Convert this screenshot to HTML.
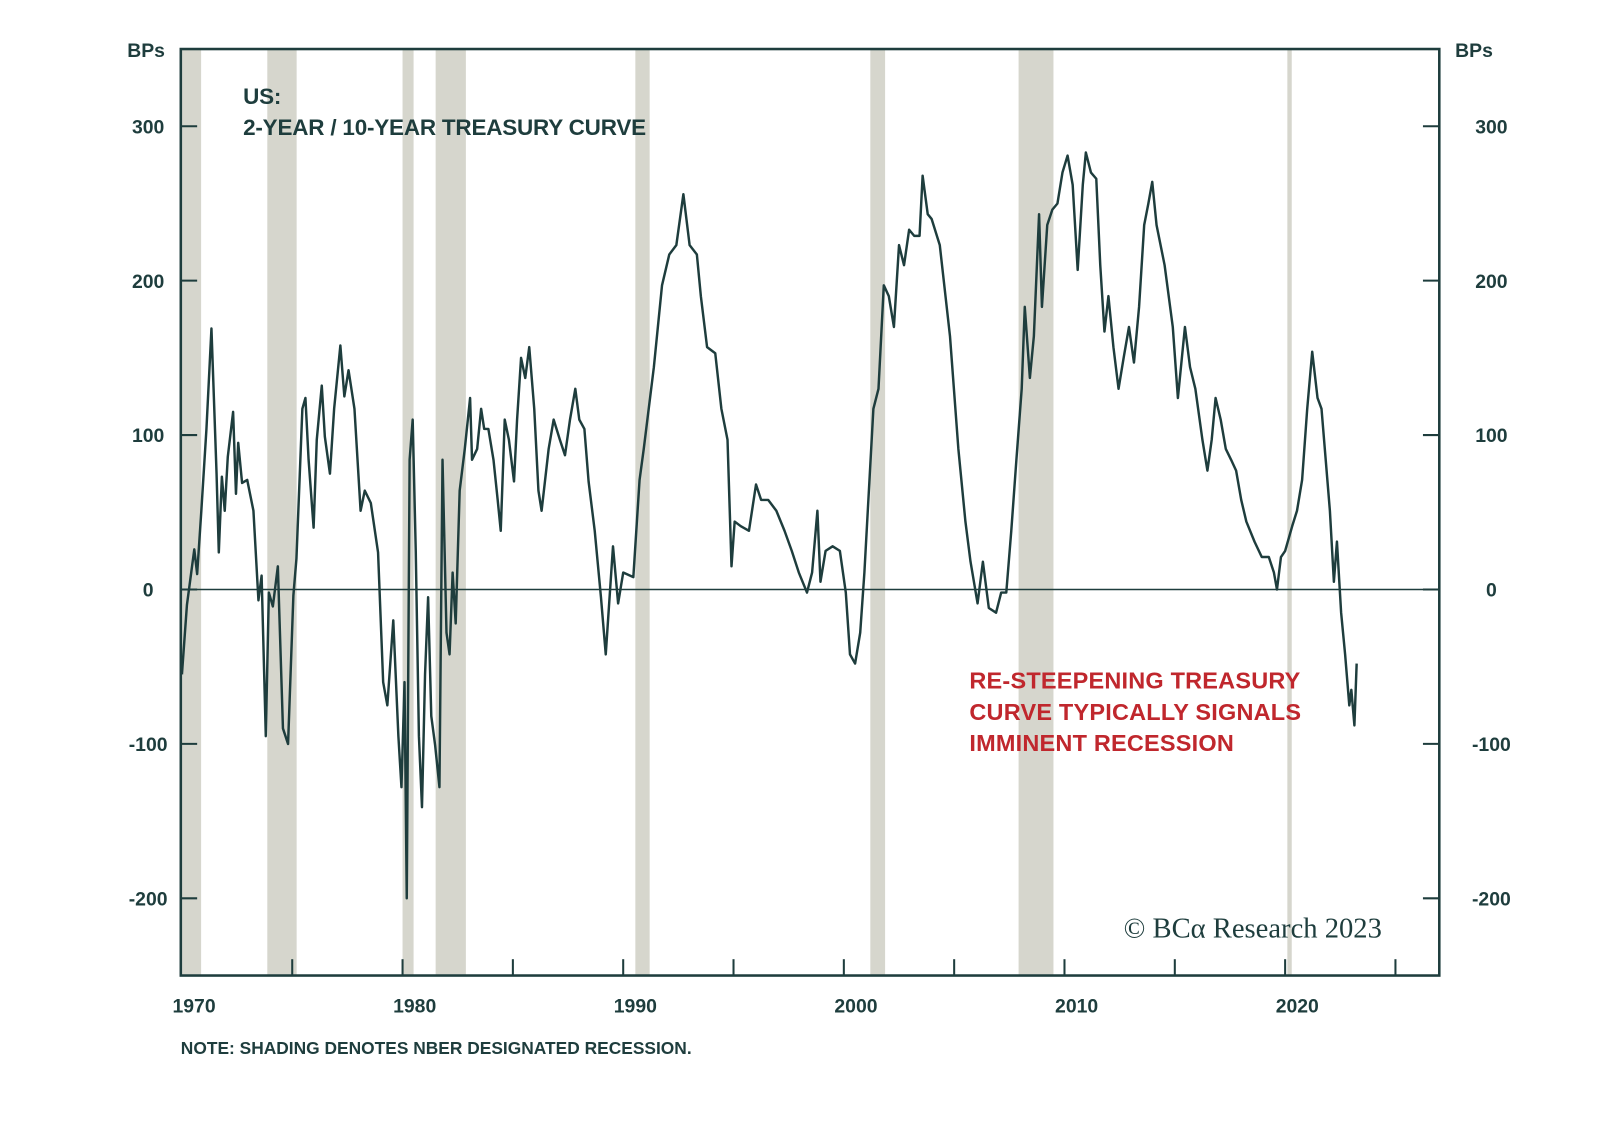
<!DOCTYPE html>
<html><head><meta charset="utf-8"><style>
html,body{margin:0;padding:0;background:#fff;}
svg{display:block;}
text{font-family:"Liberation Sans",sans-serif;}
</style></head><body>
<svg id="chart" width="1600" height="1128" viewBox="0 0 1600 1128" xmlns="http://www.w3.org/2000/svg">
<g transform="scale(1.0215)">
<g id="rec"></g>
<g id="grid"></g>
<g id="series"></g>
<g id="axes"></g>
<text x="238" y="102" font-size="22" font-weight="bold" fill="#1e3d3d" letter-spacing="-0.2">US:</text>
<text x="238" y="132" font-size="22" font-weight="bold" fill="#1e3d3d" letter-spacing="-0.2">2-YEAR / 10-YEAR TREASURY CURVE</text>
<text x="949" y="674" font-size="23" font-weight="bold" fill="#c0272d" letter-spacing="0.2">RE-STEEPENING TREASURY</text>
<text x="949" y="705" font-size="23" font-weight="bold" fill="#c0272d" letter-spacing="0.2">CURVE TYPICALLY SIGNALS</text>
<text x="949" y="735" font-size="23" font-weight="bold" fill="#c0272d" letter-spacing="0.2">IMMINENT RECESSION</text>
<text x="1100" y="918" font-size="28" fill="#1e3d3d" style="font-family:'Liberation Serif',serif">© BCα Research 2023</text>
<text x="177" y="1032" font-size="17" font-weight="bold" fill="#1e3d3d" letter-spacing="0">NOTE: SHADING DENOTES NBER DESIGNATED RECESSION.</text>
</g>
</svg>
<script>
const baseYear = 1970;
const yearOffsets = [0,0.23,0.42,0.56,0.69,0.88,1.11,1.34,1.57,1.67,1.81,1.94,2.08,2.32,2.45,2.55,2.73,2.96,3.24,3.47,3.61,3.80,3.94,4.12,4.35,4.58,4.81,5.05,5.19,5.46,5.60,5.74,5.97,6.11,6.34,6.48,6.71,6.90,7.18,7.36,7.55,7.82,8.10,8.29,8.56,8.89,9.12,9.31,9.58,9.81,9.95,10.09,10.19,10.32,10.46,10.60,10.74,10.88,11.02,11.16,11.30,11.48,11.67,11.81,11.99,12.13,12.27,12.41,12.59,12.82,13.06,13.15,13.38,13.56,13.70,13.89,14.12,14.31,14.45,14.63,14.82,15.05,15.19,15.37,15.56,15.74,15.97,16.16,16.30,16.62,16.85,17.13,17.36,17.59,17.83,18.01,18.24,18.43,18.71,18.99,19.21,19.54,19.77,20.00,20.46,20.74,20.93,21.39,21.76,22.09,22.41,22.73,23.01,23.34,23.52,23.80,24.17,24.45,24.73,24.91,25.05,25.33,25.70,26.02,26.25,26.57,26.94,27.31,27.64,27.96,28.33,28.56,28.80,28.94,29.17,29.49,29.82,30.09,30.28,30.51,30.74,30.93,31.11,31.34,31.57,31.81,32.04,32.27,32.50,32.73,32.96,33.19,33.43,33.57,33.80,33.98,34.35,34.81,35.19,35.51,35.74,36.06,36.30,36.57,36.90,37.13,37.36,37.59,37.82,38.06,38.20,38.43,38.61,38.85,38.98,39.22,39.45,39.68,39.91,40.14,40.37,40.60,40.83,40.97,41.20,41.44,41.62,41.81,41.99,42.22,42.45,42.68,42.92,43.15,43.38,43.61,43.80,43.98,44.17,44.54,44.91,45.14,45.32,45.46,45.69,45.93,46.25,46.48,46.67,46.85,47.08,47.31,47.55,47.78,48.01,48.24,48.61,48.94,49.26,49.49,49.63,49.81,50.00,50.32,50.54,50.77,51.00,51.23,51.47,51.65,51.84,52.03,52.21,52.35,52.54,52.72,52.91,53.00,53.14,53.24];
const spreadBps = [-55,-10,11,26,10,51,104,169,75,24,73,51,86,115,62,95,69,71,51,-7,9,-95,-2,-11,15,-90,-100,-4,20,117,124,84,40,97,132,99,75,117,158,125,142,117,51,64,56,24,-60,-75,-20,-95,-128,-60,-200,84,110,25,-95,-141,-55,-5,-82,-101,-128,84,-28,-42,11,-22,64,91,124,84,91,117,104,104,84,58,38,110,97,70,110,150,137,157,117,64,51,91,110,97,87,110,130,110,104,70,38,-5,-42,28,-9,11,8,71,91,144,197,217,223,256,223,217,190,157,153,117,97,15,44,41,38,68,58,58,51,38,25,11,-2,11,51,5,25,28,25,-2,-42,-48,-28,11,58,117,130,197,190,170,223,210,233,229,229,268,243,240,223,164,91,44,18,-9,18,-12,-15,-2,-2,38,84,130,183,137,164,243,183,236,246,250,270,281,262,207,262,283,270,266,210,167,190,157,130,150,170,147,183,236,250,264,236,210,170,124,150,170,144,130,97,77,97,124,110,91,84,77,58,44,31,21,21,11,0,21,25,41,51,71,117,154,124,117,84,51,5,31,-15,-42,-75,-65,-88,-48];
const recessionStarts = [1969.92,1973.87,1980.0,1981.5,1990.55,2001.2,2007.92,2020.1];
const recessionEnds = [1970.87,1975.2,1980.5,1982.87,1991.2,2001.87,2009.5,2020.3];
const yTicks = [-200,-100,0,100,200,300];
const xTickYears = [1975,1980,1985,1990,1995,2000,2005,2010,2015,2020,2025];
const xLabelYears = [1970,1980,1990,2000,2010,2020];

const NS = "http://www.w3.org/2000/svg";
const L = 177, R = 1409, T = 48, B = 955;
const xMin = 1969.95, pxPerYear = 21.6;
const yMax = 350, yMin = -250;
function xs(yr){ return L + (yr - xMin) * pxPerYear; }
function ys(v){ return T + (yMax - v) / (yMax - yMin) * (B - T); }
function mk(tag, attrs, parent){ const e = document.createElementNS(NS, tag); for (const k in attrs) e.setAttribute(k, attrs[k]); parent.appendChild(e); return e; }
const C = "#1e3d3d";

const rec = document.getElementById('rec');
recessionStarts.forEach((s, i) => {
  const x0 = Math.max(L, xs(s)), x1 = xs(recessionEnds[i]);
  const r = mk('rect', {x: x0, y: T, width: x1 - x0, height: B - T, fill: '#d6d6cd'}, rec);
  
  
});

const grid = document.getElementById('grid');
const zl = mk('line', {x1: L, x2: R, y1: ys(0), y2: ys(0), stroke: C, 'stroke-width': 1.5}, grid);



const series = document.getElementById('series');
let d = '';
yearOffsets.forEach((t, i) => { d += (i ? 'L' : 'M') + xs(baseYear + t).toFixed(1) + ',' + ys(spreadBps[i]).toFixed(1); });
const p = mk('path', {d: d, fill: 'none', stroke: C, 'stroke-width': 2.4, 'stroke-linejoin': 'round'}, series);



const axes = document.getElementById('axes');
const fr = mk('rect', {x: L, y: T, width: R - L, height: B - T, fill: 'none', stroke: C, 'stroke-width': 2.5}, axes);


yTicks.forEach(v => {
  const y = ys(v);
  const t1 = mk('line', {x1: L, x2: L + 16, y1: y, y2: y, stroke: C, 'stroke-width': 2}, axes);
  
  
  const t2 = mk('line', {x1: R - 16, x2: R, y1: y, y2: y, stroke: C, 'stroke-width': 2}, axes);
  
  
  const lt = mk('text', {x: 145, y: y + 7, 'text-anchor': 'middle', 'font-size': 19, 'font-weight': 'bold', fill: C}, axes);
  lt.textContent = v;
  
  
  const rt = mk('text', {x: 1460, y: y + 7, 'text-anchor': 'middle', 'font-size': 19, 'font-weight': 'bold', fill: C}, axes);
  rt.textContent = v;
  
  
});
xTickYears.forEach(yr => {
  const x = xs(yr);
  const t = mk('line', {x1: x, x2: x, y1: B - 16, y2: B, stroke: C, 'stroke-width': 2}, axes);
  
  
});
xLabelYears.forEach(yr => {
  const t = mk('text', {x: xs(yr + 0.55), y: 991, 'text-anchor': 'middle', 'font-size': 19, 'font-weight': 'bold', fill: C}, axes);
  t.textContent = yr;
  
  
});
const b1 = mk('text', {x: 143, y: 56, 'text-anchor': 'middle', 'font-size': 19, 'font-weight': 'bold', fill: C}, axes);
b1.textContent = 'BPs';


const b2 = mk('text', {x: 1443, y: 56, 'text-anchor': 'middle', 'font-size': 19, 'font-weight': 'bold', fill: C}, axes);
b2.textContent = 'BPs';


</script>
</body></html>
